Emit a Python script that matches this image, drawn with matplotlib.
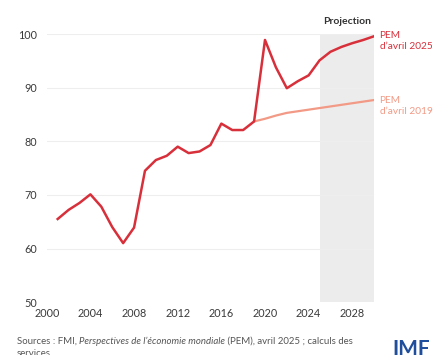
import matplotlib
matplotlib.use("Agg")
import matplotlib.pyplot as plt

plt.rcParams['font.family'] = ['Lato', 'DejaVu Sans']

years_2025 = list(range(2001, 2031))
weo_2025 = [65.5, 67.2, 68.5, 70.1, 67.8, 64.0, 61.0, 63.9, 74.5, 76.5,
            77.3, 79.0, 77.8, 78.1, 79.3, 83.3, 82.1, 82.1, 83.7, 98.9,
            93.8, 89.9, 91.2, 92.3, 95.1, 96.7, 97.6, 98.3, 98.9, 99.6]
years_2019 = list(range(2019, 2031))
weo_2019 = [83.7, 84.2, 84.8, 85.3, 85.6, 85.9, 86.2, 86.5, 86.8, 87.1, 87.4, 87.7]

xticks = [2000, 2004, 2008, 2012, 2016, 2020, 2024, 2028]
yticks = [50, 60, 70, 80, 90, 100]

red = '#d8303b'
salmon = '#f29a86'

fig = plt.figure(figsize=(4.33, 3.55), dpi=100)
ax = fig.add_axes([0.108, 0.149, 0.756, 0.755])

ax.axvspan(2025, 2030, color='#ececec', lw=0, zorder=0)
for y in yticks[1:]:
    ax.axhline(y, color='#eeeeee', lw=0.8, zorder=0.5)

ax.plot(years_2019, weo_2019, color=salmon, lw=1.6, zorder=2)
ax.plot(years_2025, weo_2025, color=red, lw=1.8, zorder=3)

ax.set_xlim(2000, 2030)
ax.set_ylim(50, 100)
ax.set_xticks(xticks)
ax.set_yticks(yticks)
ax.tick_params(length=0, labelsize=7.8, labelcolor='#3a3a3a')
ax.tick_params(axis='y', pad=7)
ax.tick_params(axis='x', pad=4)
for s in ax.spines.values():
    s.set_visible(False)

ax.text(2027.5, 101.5, 'Projection', ha='center', va='bottom', fontsize=7.5,
        fontweight='bold', color='#333333')
ax.text(2030.5, 100.6, 'PEM\nd\u2019avril 2025', ha='left', va='top', fontsize=7.3,
        color=red, linespacing=1.25, clip_on=False)
ax.text(2030.5, 88.4, 'PEM\nd\u2019avril 2019', ha='left', va='top', fontsize=7.3,
        color=salmon, linespacing=1.25, clip_on=False)

# source line with italic title
fig.canvas.draw()
r = fig.canvas.get_renderer()
parts = [('Sources : FMI, ', 'normal'),
         ('Perspectives de l\u2019\u00e9conomie mondiale', 'italic'),
         (' (PEM), avril 2025 ; calculs des', 'normal')]
x = 17
for txt, style in parts:
    t = fig.text(x / 433, 1 - 341 / 355, txt, fontsize=6.9, style=style,
                 color='#555555', va='center', ha='left')
    x += t.get_window_extent(r).width * 433 / fig.bbox.width
fig.text(17 / 433, 1 - 353 / 355, 'services', fontsize=6.9, color='#555555',
         va='center', ha='left')

fig.text(392 / 433, -0.01, 'IMF', fontsize=15, fontweight='bold',
         color='#1f4e9c', va='bottom', ha='left')

fig.savefig('out.png', dpi=100)
